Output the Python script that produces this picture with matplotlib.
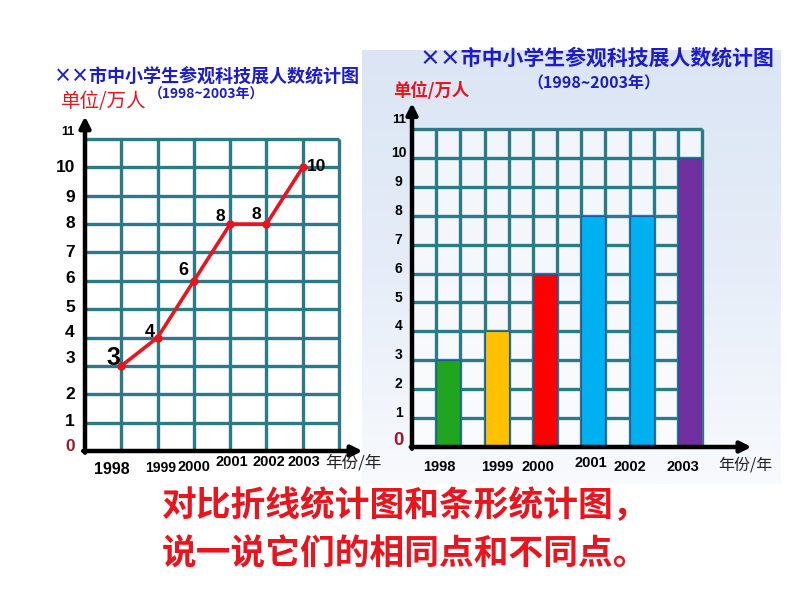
import matplotlib
matplotlib.use('Agg')
import matplotlib.pyplot as plt
import numpy as np
from matplotlib.colors import LinearSegmentedColormap
from matplotlib.patches import Rectangle

plt.rcParams['font.family'] = ['Liberation Sans', 'Noto Sans CJK SC', 'DejaVu Sans']

# ---------------- data ----------------
years = ['1998', '1999', '2000', '2001', '2002', '2003']
visitors = [3, 4, 6, 8, 8, 10]          # 万人
y_ticks = list(range(0, 12))
bar_colors = ['#1fa51f', '#ffc000', '#ff0000', '#00b0f0', '#00b0f0', '#7030a0']

title = '××市中小学生参观科技展人数统计图'
subtitle = '（1998~2003年）'
unit_label = '单位/万人'
x_label = '年份/年'
question = ['对比折线统计图和条形统计图，', '说一说它们的相同点和不同点。']

# ---------------- layout helpers ----------------
W, H = 794, 596
fig = plt.figure(figsize=(W / 100, H / 100), dpi=100)
fig.patch.set_facecolor('white')


def fx(x):
    return x / W


def fy(y):
    return 1 - y / H


def rect(l, t, r, b):
    return [l / W, 1 - b / H, (r - l) / W, (b - t) / H]


GRID = '#2a7b87'
BLUE = '#1c1cc8'
RED = '#e8141e'
DARKRED = '#9b1b30'
CJK = ['Noto Sans CJK SC', 'DejaVu Sans']
LAT = ['Liberation Sans', 'DejaVu Sans']

# ---------------- sky background panel (right) ----------------
bg = fig.add_axes(rect(362, 50, 780, 484), zorder=0)
grad = np.linspace(0, 1, 256).reshape(-1, 1)
cmap = LinearSegmentedColormap.from_list('sky', ['#dbe5f4', '#e6edf8', '#f8fafd'])
bg.imshow(grad, aspect='auto', cmap=cmap, extent=[0, 1, 0, 1])
bg.axis('off')

# ---------------- left: line chart ----------------
axL = fig.add_axes(rect(85, 139, 339, 451), zorder=2)
axL.set_xlim(0, 7)
axL.set_ylim(0, 11)
axL.axis('off')
axL.hlines(range(1, 12), 0, 7, colors=GRID, lw=2.4, clip_on=False, zorder=1)
axL.vlines(range(1, 8), 0, 11, colors=GRID, lw=2.4, clip_on=False, zorder=1)
arrow_kw = dict(arrowstyle='-|>', color='black', lw=3.2, mutation_scale=16,
                shrinkA=0, shrinkB=0)
axL.annotate('', xy=(0, 11.8), xytext=(0, -0.06), arrowprops=arrow_kw,
             annotation_clip=False, zorder=4)
axL.annotate('', xy=(7.65, 0), xytext=(-0.05, 0), arrowprops=arrow_kw,
             annotation_clip=False, zorder=4)

xs = np.arange(1, len(visitors) + 1)
axL.plot(xs, visitors, color=RED, lw=2.6, marker='o', ms=5, clip_on=False, zorder=3)

lab_off = [(-8, 8), (-8, 5), (-10, 10), (-10, 8), (-10, 10), (14, 1)]
lab_size = [18, 13, 13, 12.5, 12.5, 12.5]
for x, v, off, fs in zip(xs, visitors, lab_off, lab_size):
    axL.annotate(str(v), (x, v), xytext=off, textcoords='offset pixels',
                 ha='center', va='center', fontsize=fs, fontweight='bold',
                 family=LAT, color='black', zorder=5, annotation_clip=False)

ylab_off_L = [0.15, 0.05, 0.0, 0.25, 0.17, 0.07, 0.07, 0.0, 0.03, -0.07, 0.0, 0.25]
for v, o in zip(y_ticks, ylab_off_L):
    if v == 0:
        c, fs = DARKRED, 12.5
    elif v == 11:
        c, fs = 'black', 9
    else:
        c, fs = 'black', 12.5
    axL.text(-0.28, v + o, str(v), ha='right', va='center', fontsize=fs,
             fontweight='bold', color=c, family=LAT, clip_on=False)

yr_off_L = [(-0.27, -0.65), (0.08, -0.6), (0.0, -0.56), (0.05, -0.4), (0.08, -0.4), (0.03, -0.4)]
yr_size_L = [11.5, 10, 10.5, 10.5, 10.5, 10.5]
for i, (yr, off, fs) in enumerate(zip(years, yr_off_L, yr_size_L)):
    axL.text(xs[i] + off[0], off[1], yr, ha='center', va='center', fontsize=fs,
             fontweight='bold', family=LAT, color='black', clip_on=False)
fig.text(fx(353), fy(463), x_label, ha='center', va='center', fontsize=12,
         family=CJK, color='#222222')

fig.text(fx(207), fy(77), title, ha='center', va='center', fontsize=13,
         fontweight='bold', family=CJK, color=BLUE)
fig.text(fx(104), fy(102), unit_label, ha='center', va='center', fontsize=14,
         family=CJK, color=RED)
fig.text(fx(206), fy(95), subtitle, ha='center', va='center', fontsize=10,
         fontweight='bold', family=CJK, color=BLUE)

# ---------------- right: bar chart ----------------
axR = fig.add_axes(rect(412, 129, 702, 447), zorder=2)
axR.set_xlim(0, 12)
axR.set_ylim(0, 11)
axR.axis('off')
axR.add_patch(Rectangle((0, 0), 12, 11, facecolor='white', alpha=0.6,
                        edgecolor='none', zorder=0))
axR.hlines(range(1, 12), 0, 12, colors=GRID, lw=2.4, clip_on=False, zorder=1)
axR.vlines(range(1, 13), 0, 11, colors=GRID, lw=2.4, clip_on=False, zorder=1)

bx = np.arange(len(visitors)) * 2 + 1.5
axR.bar(bx, visitors, width=1.0, color=bar_colors, edgecolor='#1f5a9a',
        lw=0.8, zorder=3)
axR.annotate('', xy=(0, 11.9), xytext=(0, -0.06), arrowprops=arrow_kw,
             annotation_clip=False, zorder=4)
axR.annotate('', xy=(14.05, 0), xytext=(-0.05, 0), arrowprops=arrow_kw,
              annotation_clip=False, zorder=4)

for v in y_ticks:
    if v == 0:
        c, fs, o = DARKRED, 13.5, 0.22
    elif v == 11:
        c, fs, o = 'black', 9.5, 0.3
    else:
        c, fs, o = 'black', 10, 0.17
    axR.text(-0.55, v + o, str(v), ha='center', va='center', fontsize=fs,
             fontweight='bold', color=c, family=LAT, clip_on=False)

yr_off_R = [(-0.38, -0.69), (0.02, -0.69), (-0.29, -0.69), (-0.09, -0.55), (-0.48, -0.69), (-0.29, -0.69)]
for x, yr, off in zip(bx, years, yr_off_R):
    axR.text(x + off[0], off[1], yr, ha='center', va='center', fontsize=10.5,
             fontweight='bold', family=LAT, color='black', clip_on=False)
fig.text(fx(745), fy(465), x_label, ha='center', va='center', fontsize=11.5,
         family=CJK, color='#222222')

fig.text(fx(597), fy(58), title, ha='center', va='center', fontsize=15,
         fontweight='bold', family=CJK, color=BLUE)
fig.text(fx(594), fy(83), subtitle, ha='center', va='center', fontsize=11.5,
         fontweight='bold', family=CJK, color=BLUE)
fig.text(fx(431), fy(91), unit_label, ha='center', va='center', fontsize=12.5,
         fontweight='bold', family=CJK, color=RED)

# ---------------- question text ----------------
fig.text(fx(162), fy(506), question[0], ha='left', va='center', fontsize=25,
         fontweight='bold', family=CJK, color=RED)
fig.text(fx(162), fy(554), question[1], ha='left', va='center', fontsize=25,
         fontweight='bold', family=CJK, color=RED)

fig.savefig('out.png', dpi=100, facecolor='white')
